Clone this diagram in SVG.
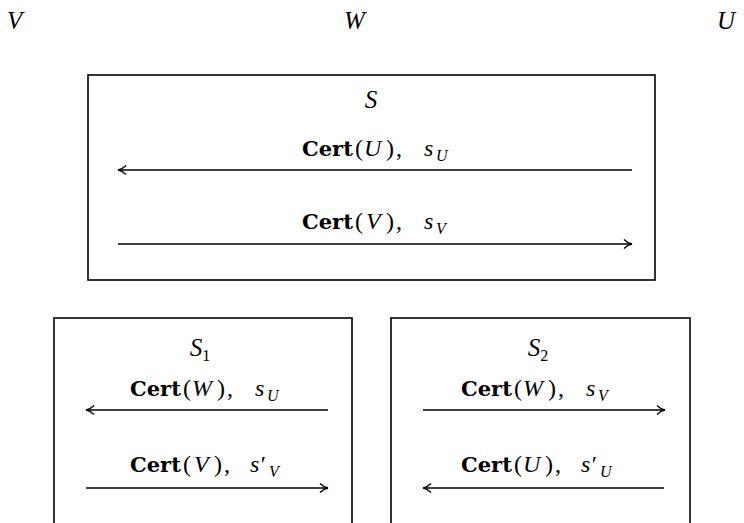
<svg xmlns="http://www.w3.org/2000/svg" width="744" height="523" viewBox="0 0 744 523">
<defs>
<style>
.box{fill:none;stroke:#000;stroke-width:1.6}
.ln{fill:none;stroke:#000;stroke-width:1.4}
.it{font-family:"Liberation Serif",Tinos,"Times New Roman",FreeSerif,"DejaVu Serif",serif;font-style:italic}
.rm{font-family:"Liberation Serif",Tinos,"Times New Roman",FreeSerif,"DejaVu Serif",serif}
.bf{font-family:"DejaVu Serif","Liberation Serif",serif;font-weight:bold;font-size:21px}
.lbl{font-size:24px;fill:#000}
.sub{font-size:16px}
.top{font-family:"Liberation Serif",Tinos,"Times New Roman",FreeSerif,"DejaVu Serif",serif;font-style:italic;font-size:25px;fill:#000}
.scr{font-family:"Liberation Serif",Tinos,"Times New Roman",FreeSerif,"DejaVu Serif",serif;font-style:italic;font-size:25px;fill:#000}
</style>
<marker id="ah" markerWidth="12" markerHeight="12" refX="10" refY="6" orient="auto" markerUnits="userSpaceOnUse">
<path d="M2,1.5 Q6,5.5 10,6 Q6,6.5 2,10.5" fill="none" stroke="#000" stroke-width="1.3"/>
</marker>
</defs>
<rect width="744" height="523" fill="#fff"/>

<g id="party-V"><text class="top" x="7" y="29">V</text></g>
<g id="party-W"><text class="top" x="344" y="29">W</text></g>
<g id="party-U"><text class="top" x="717" y="29">U</text></g>

<g id="node-S">
<rect class="box" x="88" y="75" width="567" height="205"/>
<text class="scr" x="371" y="108" text-anchor="middle">S</text>
<text class="lbl" y="156"><tspan class="bf" x="302">Cert</tspan><tspan class="rm" x="355">(</tspan><tspan class="it" x="364">U</tspan><tspan class="rm" x="386">)</tspan><tspan class="rm" x="396">,</tspan><tspan class="it" x="424">s</tspan><tspan class="it sub" x="436" dy="5">U</tspan></text>
<text class="lbl" y="229"><tspan class="bf" x="302">Cert</tspan><tspan class="rm" x="355">(</tspan><tspan class="it" x="366">V</tspan><tspan class="rm" x="386">)</tspan><tspan class="rm" x="396">,</tspan><tspan class="it" x="424">s</tspan><tspan class="it sub" x="436" dy="5">V</tspan></text>
</g>

<g id="node-S1">
<rect class="box" x="54" y="318" width="298" height="210"/>
<text class="scr" x="200" y="356" text-anchor="middle">S<tspan class="rm sub" font-style="normal" dy="5">1</tspan></text>
<text class="lbl" y="396"><tspan class="bf" x="130">Cert</tspan><tspan class="rm" x="183">(</tspan><tspan class="it" x="192">W</tspan><tspan class="rm" x="217">)</tspan><tspan class="rm" x="227">,</tspan><tspan class="it" x="255">s</tspan><tspan class="it sub" x="267" dy="5">U</tspan></text>
<text class="lbl" y="472"><tspan class="bf" x="130">Cert</tspan><tspan class="rm" x="183">(</tspan><tspan class="it" x="194">V</tspan><tspan class="rm" x="214">)</tspan><tspan class="rm" x="224">,</tspan><tspan class="it" x="250">s′</tspan><tspan class="it sub" x="269" dy="5">V</tspan></text>
</g>

<g id="node-S2">
<rect class="box" x="391" y="318" width="299" height="210"/>
<text class="scr" x="538" y="356" text-anchor="middle">S<tspan class="rm sub" font-style="normal" dy="5">2</tspan></text>
<text class="lbl" y="396"><tspan class="bf" x="461">Cert</tspan><tspan class="rm" x="514">(</tspan><tspan class="it" x="523">W</tspan><tspan class="rm" x="548">)</tspan><tspan class="rm" x="558">,</tspan><tspan class="it" x="586">s</tspan><tspan class="it sub" x="598" dy="5">V</tspan></text>
<text class="lbl" y="472"><tspan class="bf" x="461">Cert</tspan><tspan class="rm" x="514">(</tspan><tspan class="it" x="523">U</tspan><tspan class="rm" x="545">)</tspan><tspan class="rm" x="555">,</tspan><tspan class="it" x="581">s′</tspan><tspan class="it sub" x="600" dy="5">U</tspan></text>
</g>

<g id="connectors">
<line class="ln" x1="632" y1="170" x2="118" y2="170" marker-end="url(#ah)"/>
<line class="ln" x1="118" y1="244" x2="632" y2="244" marker-end="url(#ah)"/>
<line class="ln" x1="328" y1="410" x2="86" y2="410" marker-end="url(#ah)"/>
<line class="ln" x1="86" y1="488" x2="328" y2="488" marker-end="url(#ah)"/>
<line class="ln" x1="423" y1="410" x2="665" y2="410" marker-end="url(#ah)"/>
<line class="ln" x1="664" y1="488" x2="423" y2="488" marker-end="url(#ah)"/>
</g>
</svg>
